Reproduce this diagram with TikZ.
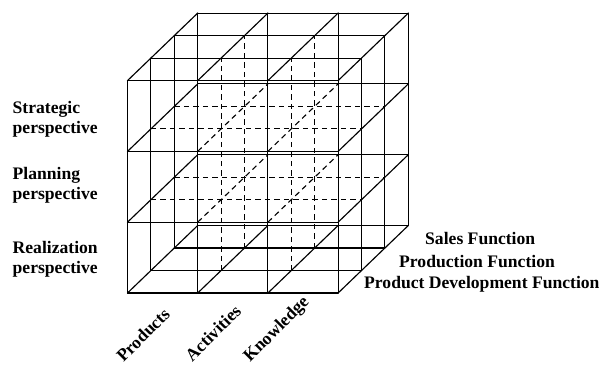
\documentclass[tikz,border=0pt]{standalone}
\usepackage{fontspec}
\setmainfont{Liberation Serif}
\begin{document}
\begin{tikzpicture}[
  ln1/.style={line width=1.15pt, line cap=round},
  ln0/.style={line width=1.1pt, dash pattern=on 5.5pt off 4pt},
  lbl/.style={font=\fontsize{17.6}{20}\selectfont\bfseries, inner sep=0pt},
  axlbl/.style={lbl, rotate=45, anchor=center}
]
\useasboundingbox[fill=white] (0,0) rectangle (609pt,365pt);
\begin{scope}[shift={(127.5pt,72pt)}, x={(70.2pt,0pt)}, y={(0pt,70.8pt)}, z={(23.4pt,22.5pt)}]
  % hidden (interior) lines first
  \foreach \a in {1,2}{
    \foreach \b in {1,2}{
      \draw[ln0] (0,\a,\b) -- (3,\a,\b);
      \draw[ln0] (\a,0,\b) -- (\a,3,\b);
      \draw[ln0] (\a,\b,0) -- (\a,\b,3);
    }
  }
  % surface lines
  \foreach \a in {0,...,3}{
    \foreach \b in {0,...,3}{
      \pgfmathtruncatemacro\sx{((\a==0)||(\a==3)||(\b==0)||(\b==3)) ? 1 : 0}
      \ifnum\sx=1
        \draw[ln1] (0,\a,\b) -- (3,\a,\b);
        \draw[ln1] (\a,0,\b) -- (\a,3,\b);
        \draw[ln1] (\a,\b,0) -- (\a,\b,3);
      \fi
    }
  }
\end{scope}
% left labels
\node[lbl, anchor=base west] (s1) at (12.5pt,252pt) {Strategic};
\node[lbl, anchor=base west] (s2) at (12.5pt,232pt) {perspective};
\node[lbl, anchor=base west] (p1) at (12.5pt,186pt) {Planning};
\node[lbl, anchor=base west] (p2) at (12.5pt,166pt) {perspective};
\node[lbl, anchor=base west] (r1) at (12.5pt,112pt) {Realization};
\node[lbl, anchor=base west] (r2) at (12.5pt,92pt) {perspective};
% right labels
\node[lbl, anchor=base west] (sf) at (425pt,121pt) {Sales Function};
\node[lbl, anchor=base west] (pf) at (399pt,98pt) {Production Function};
\node[lbl, anchor=base west] (pdf) at (364pt,77pt) {Product Development Function};
% bottom labels
\node[axlbl] (prod) at (143pt,30pt) {Products};
\node[axlbl] (act) at (213pt,32pt) {Activities};
\node[axlbl] (know) at (277pt,35pt) {Knowledge};
\end{tikzpicture}
\end{document}
